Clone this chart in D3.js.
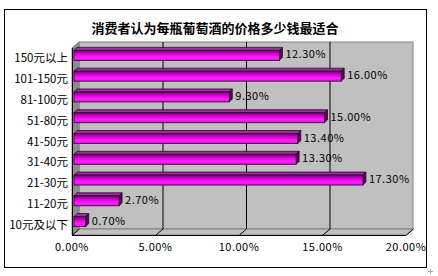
<!doctype html>
<html lang="zh">
<head>
<meta charset="utf-8">
<title>消费者认为每瓶葡萄酒的价格多少钱最适合</title>
<script src="https://d3js.org/d3.v7.min.js"></script>
<style>
  body { margin: 0; background: #fff; }
  svg text { font-family: "Noto Sans CJK SC", sans-serif; fill: #000; }
</style>
</head>
<body>
<svg id="chart" width="438" height="276"></svg>
<script>
  // data (top to bottom)
  var categories = ["150元以上", "101-150元", "81-100元", "51-80元", "41-50元", "31-40元", "21-30元", "11-20元", "10元及以下"];
  var values = [12.3, 16.0, 9.3, 15.0, 13.4, 13.3, 17.3, 2.7, 0.7];
  var ticks = [0, 5, 10, 15, 20];

  var svg = d3.select("#chart");

  // front plane and 3d depth of the walls
  var pLeft = 72, pRight = 406, pTop = 48, pBottom = 235;
  var dx = 7, dy = -6;      // wall depth
  var bdx = 3, bdy = -3;    // bar depth

  var x = d3.scaleLinear().domain([0, 20]).range([pLeft, pRight]);
  var y = d3.scaleBand().domain(categories).range([pTop, pBottom]);

  var defs = svg.append("defs");
  var grad = defs.append("linearGradient")
    .attr("id", "barGrad").attr("x1", 0).attr("y1", 0).attr("x2", 0).attr("y2", 1);
  grad.append("stop").attr("offset", "0%").attr("stop-color", "#6a006a");
  grad.append("stop").attr("offset", "35%").attr("stop-color", "#d800d8");
  grad.append("stop").attr("offset", "70%").attr("stop-color", "#ff22ff");
  grad.append("stop").attr("offset", "100%").attr("stop-color", "#e010e0");

  // outer frame
  svg.append("rect")
    .attr("x", 4.5).attr("y", 9.5).attr("width", 422).attr("height", 258)
    .attr("fill", "#fff").attr("stroke", "#000");

  svg.append("text")
    .attr("x", 215).attr("y", 33)
    .attr("text-anchor", "middle")
    .attr("font-size", 13).attr("font-weight", "bold")
    .text("消费者认为每瓶葡萄酒的价格多少钱最适合");

  // walls
  var bx0 = pLeft + dx, bx1 = pRight + dx, by0 = pTop + dy, by1 = pBottom + dy;
  svg.append("rect")
    .attr("x", bx0).attr("y", by0).attr("width", bx1 - bx0).attr("height", by1 - by0)
    .attr("fill", "#c0c0c0").attr("stroke", "#808080");
  svg.append("polygon")
    .attr("points", [[pLeft, pTop], [bx0, by0], [bx0, by1], [pLeft, pBottom]].join(" "))
    .attr("fill", "#8c8c8c").attr("stroke", "#808080");
  svg.append("polygon")
    .attr("points", [[pLeft, pBottom], [bx0, by1], [bx1, by1], [pRight, pBottom]].join(" "))
    .attr("fill", "#c0c0c0").attr("stroke", "#808080");

  // gridlines on back wall + floor
  svg.selectAll(".grid")
    .data(ticks.slice(1, -1))
    .enter().append("line")
    .attr("x1", function(d) { return x(d) + dx + 0.5; })
    .attr("x2", function(d) { return x(d) + dx + 0.5; })
    .attr("y1", by0).attr("y2", by1)
    .attr("stroke", "#000");
  svg.selectAll(".floorTick")
    .data(ticks)
    .enter().append("line")
    .attr("x1", function(d) { return x(d) + dx + 0.5; })
    .attr("y1", by1)
    .attr("x2", function(d) { return x(d) + 0.5; })
    .attr("y2", pBottom)
    .attr("stroke", "#000");

  // axis lines
  svg.append("line").attr("x1", pLeft + 0.5).attr("x2", pLeft + 0.5)
    .attr("y1", pTop).attr("y2", pBottom).attr("stroke", "#000");
  svg.append("line").attr("x1", pLeft).attr("x2", pRight)
    .attr("y1", pBottom + 0.5).attr("y2", pBottom + 0.5).attr("stroke", "#000");

  // category labels
  svg.selectAll(".cat")
    .data(categories)
    .enter().append("text")
    .attr("x", 68)
    .attr("y", function(d) { return y(d) + y.bandwidth() / 2 + 4; })
    .attr("text-anchor", "end")
    .attr("font-size", 11.5)
    .text(function(d) { return d; });

  // tick labels
  svg.selectAll(".tick")
    .data(ticks)
    .enter().append("text")
    .attr("x", function(d) { return x(d); })
    .attr("y", 251)
    .attr("text-anchor", "middle")
    .attr("font-size", 11)
    .attr("letter-spacing", 0.5)
    .text(function(d) { return d3.format(".2f")(d) + "%"; });

  // bars
  var h = 10;
  var bars = svg.selectAll(".bar")
    .data(categories)
    .enter().append("g");

  function bx(i) { return x(values[i]) + 2; }
  function by(d) { return y(d) + y.bandwidth() / 2 - 3 - h / 2; }

  bars.append("polygon")
    .attr("points", function(d, i) {
      var x0 = pLeft + 2, x1 = bx(i), y0 = by(d);
      return [[x0, y0], [x0 + bdx, y0 + bdy], [x1 + bdx, y0 + bdy], [x1, y0]].join(" ");
    })
    .attr("fill", "#993399").attr("stroke", "#330033").attr("stroke-width", 0.8);
  bars.append("polygon")
    .attr("points", function(d, i) {
      var x1 = bx(i), y0 = by(d);
      return [[x1, y0], [x1 + bdx, y0 + bdy], [x1 + bdx, y0 + bdy + h], [x1, y0 + h]].join(" ");
    })
    .attr("fill", "#5a005a").attr("stroke", "#330033").attr("stroke-width", 0.8);
  bars.append("rect")
    .attr("x", pLeft + 2)
    .attr("y", function(d) { return by(d); })
    .attr("width", function(d, i) { return bx(i) - pLeft - 2; })
    .attr("height", h)
    .attr("fill", "url(#barGrad)").attr("stroke", "#330033").attr("stroke-width", 0.8);

  // value labels
  svg.selectAll(".val")
    .data(categories)
    .enter().append("text")
    .attr("x", function(d, i) { return bx(i) + bdx + 3; })
    .attr("y", function(d) { return by(d) + h / 2 + 3; })
    .attr("font-size", 11)
    .attr("letter-spacing", 0.5)
    .text(function(d, i) { return d3.format(".2f")(values[i]) + "%"; });

  // small cross mark outside the frame
  svg.append("path").attr("d", "M428,271.5h5M430.5,269v5")
    .attr("stroke", "#aaa").attr("fill", "none");
</script>
</body>
</html>
